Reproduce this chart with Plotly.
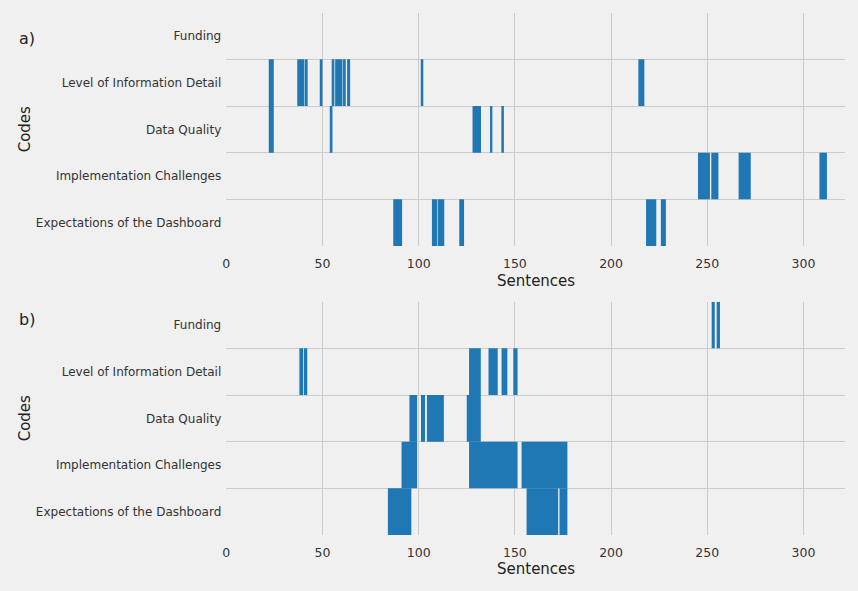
import plotly.graph_objects as go

# Category order from bottom (0) to top (4)
codes = ["Expectations of the Dashboard", "Implementation Challenges", "Data Quality",
         "Level of Information Detail", "Funding"]

x_ticks = [0, 50, 100, 150, 200, 250, 300]

# Panel a) intervals (start, end) in sentence index units
a_funding_start = []
a_funding_end = []
a_level_start = [22.1, 36.9, 40.7, 48.6, 54.8, 56.6, 60.7, 62.8, 101.1, 214.2]
a_level_end = [24.7, 40.4, 42.3, 50.0, 56.2, 60.4, 62.1, 64.4, 102.4, 217.3]
a_quality_start = [22.1, 53.8, 128.0, 137.1, 143.0]
a_quality_end = [24.7, 55.2, 132.4, 138.3, 144.3]
a_impl_start = [245.2, 252.1, 266.3, 308.3]
a_impl_end = [251.4, 255.8, 272.6, 312.2]
a_expect_start = [86.8, 106.9, 110.0, 121.1, 218.2, 225.9]
a_expect_end = [91.4, 109.7, 113.3, 123.6, 223.5, 228.5]

# Panel b)
b_funding_start = [252.3, 254.9]
b_funding_end = [253.9, 256.6]
b_level_start = [38.0, 40.4, 126.2, 136.3, 143.1, 149.2]
b_level_end = [40.0, 42.1, 132.3, 141.1, 146.1, 151.4]
b_quality_start = [95.2, 101.2, 104.3, 125.0]
b_quality_end = [99.2, 103.3, 113.1, 132.3]
b_impl_start = [91.1, 126.2, 153.5]
b_impl_end = [99.2, 151.4, 177.3]
b_expect_start = [84.0, 156.1, 173.2]
b_expect_end = [96.2, 172.5, 177.3]

panel_a = [(a_expect_start, a_expect_end), (a_impl_start, a_impl_end),
           (a_quality_start, a_quality_end), (a_level_start, a_level_end),
           (a_funding_start, a_funding_end)]
panel_b = [(b_expect_start, b_expect_end), (b_impl_start, b_impl_end),
           (b_quality_start, b_quality_end), (b_level_start, b_level_end),
           (b_funding_start, b_funding_end)]

BAR = "#1f77b4"
BG = "#f0f0f0"
GRID = "#cbcbcb"
TXT = "#333333"
FONT = "DejaVu Sans"

fig = go.Figure()

for panel, xa, ya in [(panel_a, "x", "y"), (panel_b, "x2", "y2")]:
    for idx, (starts, ends) in enumerate(panel):
        if not starts:
            continue
        fig.add_trace(go.Bar(
            orientation="h",
            y=[idx] * len(starts),
            base=starts,
            x=[e - s for s, e in zip(starts, ends)],
            width=1.0,
            marker=dict(color=BAR, line=dict(width=0)),
            xaxis=xa, yaxis=ya, showlegend=False, hoverinfo="skip",
        ))

W, H = 858, 591
left_px, right_px = 223.3, 845.0
x_dom = [left_px / W, right_px / W]
a_dom = [1 - 246.0 / H, 1 - 12.7 / H]
b_dom = [1 - 535.0 / H, 1 - 301.7 / H]

xcommon = dict(
    range=[0, (right_px - left_px) / 1.933], domain=x_dom,
    tickmode="array", tickvals=x_ticks, ticktext=[str(v) for v in x_ticks],
    showgrid=False, zeroline=False, showline=False, ticks="",
    tickfont=dict(family=FONT, size=12.5, color=TXT),
    ticklabelstandoff=8,
    minor=dict(tickvals=x_ticks[1:], showgrid=True, gridcolor=GRID, gridwidth=1.3, ticks=""),
)
ycommon = dict(
    range=[-0.5, 4.5],
    tickmode="array", tickvals=list(range(5)), ticktext=codes,
    showgrid=False, zeroline=False, showline=False, ticks="",
    tickfont=dict(family=FONT, size=12, color=TXT),
    minor=dict(tickvals=[0.5, 1.5, 2.5, 3.5], showgrid=True, gridcolor=GRID, gridwidth=1.3, ticks=""),
    ticklabelstandoff=4,
)

fig.update_layout(
    width=W, height=H,
    margin=dict(l=0, r=0, t=0, b=0),
    paper_bgcolor=BG, plot_bgcolor=BG,
    barmode="overlay",
    xaxis=dict(anchor="y", **xcommon),
    yaxis=dict(anchor="x", domain=a_dom, **ycommon),
    xaxis2=dict(anchor="y2", **xcommon),
    yaxis2=dict(anchor="x2", domain=b_dom, **ycommon),
)

cx = (left_px + right_px) / 2 / W
ann = []
for label, ly, cy_codes, sy in [("a)", 38, 129.4, 281), ("b)", 319, 418.4, 569)]:
    ann.append(dict(text=label, x=23 / W, y=1 - ly / H, xref="paper", yref="paper",
                    xanchor="center", yanchor="middle",
                    showarrow=False, font=dict(family=FONT, size=16, color="#222222")))
    ann.append(dict(text="Codes", x=22 / W, y=1 - cy_codes / H, xref="paper", yref="paper",
                    xanchor="center", yanchor="middle",
                    textangle=-90, showarrow=False,
                    font=dict(family=FONT, size=15, color="#222222")))
    ann.append(dict(text="Sentences", x=cx, y=1 - sy / H, xref="paper", yref="paper",
                    xanchor="center", yanchor="middle",
                    showarrow=False, font=dict(family=FONT, size=15, color="#222222")))
fig.update_layout(annotations=ann)

fig.write_html("out.html")
